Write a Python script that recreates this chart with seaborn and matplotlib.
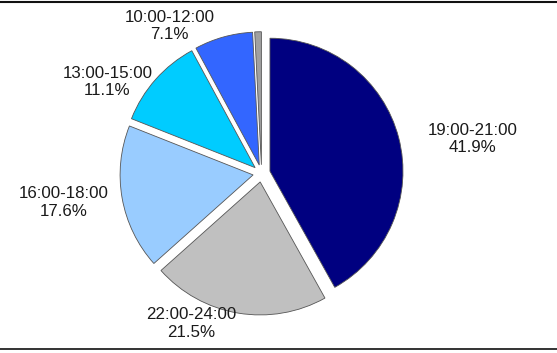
import matplotlib
matplotlib.use("Agg")
import matplotlib.pyplot as plt
import seaborn as sns
import numpy as np

categories = ["19:00-21:00", "22:00-24:00", "16:00-18:00", "13:00-15:00", "10:00-12:00", ""]
shares = [41.9, 21.5, 17.6, 11.1, 7.1, 0.8]
colors = ["#000080", "#C0C0C0", "#99CCFF", "#00CCFF", "#3366FF", "#A0A0A0"]

sns.set_theme(style="white")
plt.rcParams["font.family"] = ["Liberation Sans", "DejaVu Sans"]

W, H = 557, 353
fig = plt.figure(figsize=(W / 100, H / 100), dpi=100)
ax = fig.add_axes([0, 0, 1, 1])

cx, cy = 261.6, H - 173.4
r = 133.0
explode = [0.065 * r] * len(shares)  # pie's explode is in data units

wedges, _ = ax.pie(shares, colors=colors, startangle=90, counterclock=False,
                   explode=explode, center=(cx, cy), radius=r,
                   wedgeprops=dict(edgecolor="#555555", linewidth=0.6))

# label offsets relative to pie centre, in radius units (layout only)
label_offsets = [(1.585, 0.26), (-0.53, -1.13), (-1.49, -0.22), (-1.16, 0.685), (-0.69, 1.11), None]
for cat, val, off in zip(categories, shares, label_offsets):
    if off is None:
        continue
    ax.text(cx + off[0] * r, cy + off[1] * r, f"{cat}\n{val:.1f}%",
            ha="center", va="center", multialignment="center",
            fontsize=12.2, color="#1a1a1a", linespacing=1.2)

ax.axhline(H - 1.5, color="#111111", lw=1.5)
ax.axhline(H - 348.5, color="#111111", lw=1.2)

ax.set_xlim(0, W)
ax.set_ylim(0, H)
ax.set_aspect("equal")
ax.axis("off")

fig.savefig("out.png", dpi=100)
